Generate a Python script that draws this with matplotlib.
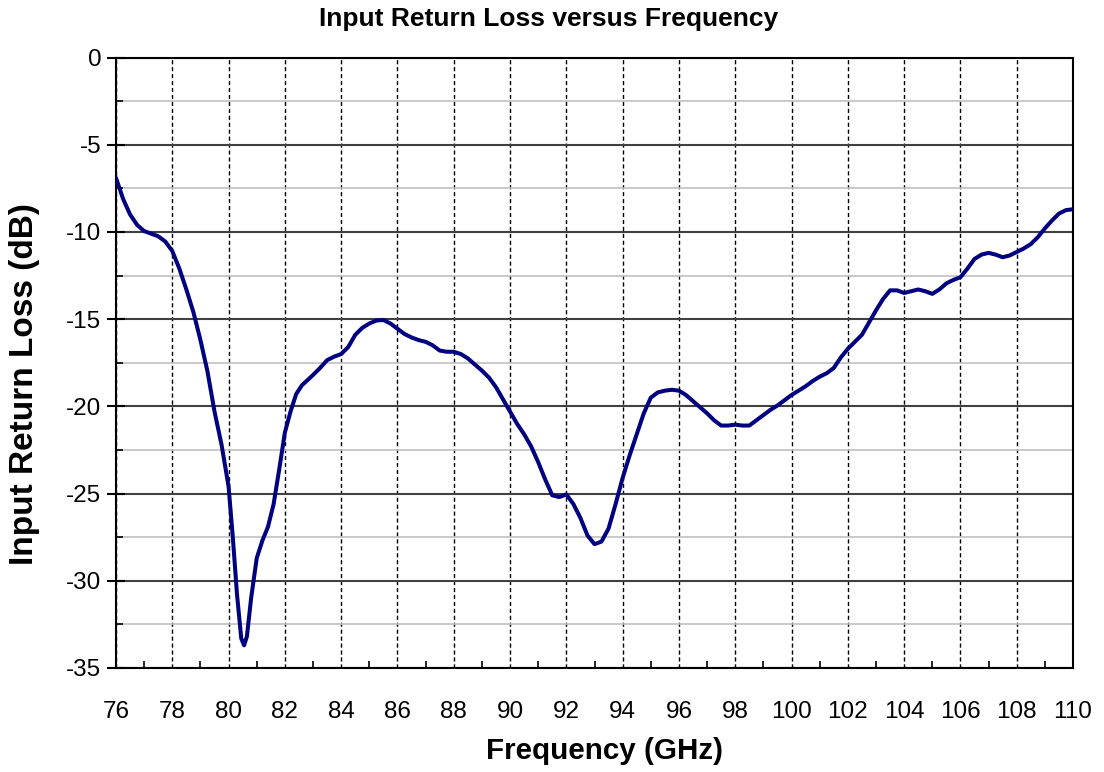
import matplotlib
matplotlib.use("Agg")
import matplotlib.pyplot as plt
from matplotlib.ticker import MultipleLocator

plt.rcParams['font.family'] = ['Liberation Sans', 'DejaVu Sans']
plt.rcParams['axes.unicode_minus'] = False

freq_ghz = [76.0, 76.25, 76.5, 76.75, 77.0, 77.25, 77.5, 77.75, 78.0, 78.25, 78.5, 78.75,
            79.0, 79.25, 79.5, 79.75, 80.0, 80.15, 80.3, 80.45, 80.55, 80.65, 80.8, 81.0,
            81.2, 81.4, 81.6, 81.8, 82.0, 82.2, 82.4, 82.6, 82.8, 83.0, 83.25, 83.5, 83.75,
            84.0, 84.25, 84.5, 84.75, 85.0, 85.25, 85.5, 85.75, 86.0, 86.25, 86.5, 86.75,
            87.0, 87.25, 87.5, 87.75, 88.0, 88.25, 88.5, 88.75, 89.0, 89.25, 89.5, 89.75,
            90.0, 90.25, 90.5, 90.75, 91.0, 91.25, 91.5, 91.75, 92.0, 92.25, 92.5, 92.75,
            93.0, 93.25, 93.5, 93.75, 94.0, 94.25, 94.5, 94.75, 95.0, 95.25, 95.5, 95.75,
            96.0, 96.25, 96.5, 96.75, 97.0, 97.25, 97.5, 97.75, 98.0, 98.25, 98.5, 98.75,
            99.0, 99.25, 99.5, 99.75, 100.0, 100.25, 100.5, 100.75, 101.0, 101.25, 101.5,
            101.75, 102.0, 102.25, 102.5, 102.75, 103.0, 103.25, 103.5, 103.75, 104.0,
            104.25, 104.5, 104.75, 105.0, 105.25, 105.5, 105.75, 106.0, 106.25, 106.5,
            106.75, 107.0, 107.25, 107.5, 107.75, 108.0, 108.25, 108.5, 108.75, 109.0,
            109.25, 109.5, 109.75, 110.0]
return_loss_db = [-6.9, -8.1, -9.0, -9.6, -9.95, -10.1, -10.25, -10.55, -11.1, -12.1, -13.3, -14.6,
                  -16.2, -18.0, -20.3, -22.2, -24.6, -27.5, -30.8, -33.3, -33.7, -33.2, -31.0, -28.7,
                  -27.7, -26.9, -25.6, -23.6, -21.5, -20.3, -19.3, -18.8, -18.5, -18.2, -17.8, -17.35, -17.15,
                  -17.0, -16.6, -15.9, -15.5, -15.25, -15.08, -15.05, -15.25, -15.55, -15.85, -16.05, -16.2,
                  -16.3, -16.5, -16.8, -16.87, -16.87, -17.0, -17.25, -17.6, -17.95, -18.35, -18.9, -19.6,
                  -20.3, -21.0, -21.6, -22.3, -23.2, -24.2, -25.1, -25.2, -25.05, -25.6, -26.4, -27.4,
                  -27.9, -27.75, -27.0, -25.6, -24.1, -22.8, -21.6, -20.4, -19.5, -19.2, -19.1, -19.05,
                  -19.1, -19.35, -19.7, -20.05, -20.4, -20.8, -21.1, -21.1, -21.05, -21.1, -21.1, -20.8,
                  -20.5, -20.2, -19.95, -19.65, -19.35, -19.1, -18.85, -18.55, -18.3, -18.1, -17.8,
                  -17.2, -16.7, -16.3, -15.9, -15.2, -14.5, -13.85, -13.35, -13.35, -13.5,
                  -13.4, -13.3, -13.4, -13.55, -13.3, -12.95, -12.75, -12.6, -12.1, -11.55,
                  -11.3, -11.2, -11.3, -11.45, -11.35, -11.15, -10.95, -10.7, -10.3, -9.8,
                  -9.35, -8.95, -8.75, -8.7]

x_ticks = list(range(76, 111, 2))
y_ticks = [0, -5, -10, -15, -20, -25, -30, -35]

W, H = 1104, 772
fig = plt.figure(figsize=(W / 100, H / 100), dpi=100)
ax = fig.add_axes([116 / W, 1 - 668 / H, (1073 - 116) / W, (668 - 57.5) / H])

ax.set_xlim(76, 110)
ax.set_ylim(-35, 0)
ax.set_xticks(x_ticks)
ax.set_yticks(y_ticks)
ax.xaxis.set_minor_locator(MultipleLocator(1))
ax.yaxis.set_minor_locator(MultipleLocator(2.5))

ax.grid(axis='y', which='major', color='#404040', linestyle='-', linewidth=1.5, zorder=1)
ax.grid(axis='y', which='minor', color='#c0c0c0', linestyle='-', linewidth=1.2, zorder=1)
ax.grid(axis='x', which='major', color='black', linestyle=(0, (3, 2)), linewidth=1.0, zorder=1)

ax.plot(freq_ghz, return_loss_db, color='#000080', linewidth=2.9, solid_capstyle='round',
        solid_joinstyle='round', zorder=3)

for s in ax.spines.values():
    s.set_linewidth(1.5)
    s.set_color('black')

ax.tick_params(axis='x', which='major', length=0, pad=24, labelsize=17.5)
ax.tick_params(axis='x', which='minor', direction='in', length=5, width=1.2)
ax.tick_params(axis='y', which='major', direction='inout', length=13, width=1.5, pad=4, labelsize=17.5)
ax.tick_params(axis='y', which='minor', direction='in', length=5, width=1.2)

ax.set_xlabel('Frequency (GHz)', fontsize=21.3, fontweight='bold')
ax.xaxis.label.set_va('center')
ax.xaxis.set_label_coords(605 / W, 1 - 751 / H, transform=fig.transFigure)

ax.set_ylabel('Input Return Loss (dB)', fontsize=24, fontweight='bold')
ax.yaxis.label.set_va('center')
ax.yaxis.set_label_coords(25 / W, 1 - 384 / H, transform=fig.transFigure)

fig.text(549 / W, 1 - 19 / H, 'Input Return Loss versus Frequency', ha='center', va='center',
         fontsize=19, fontweight='bold')

fig.savefig('out.png', dpi=100)
